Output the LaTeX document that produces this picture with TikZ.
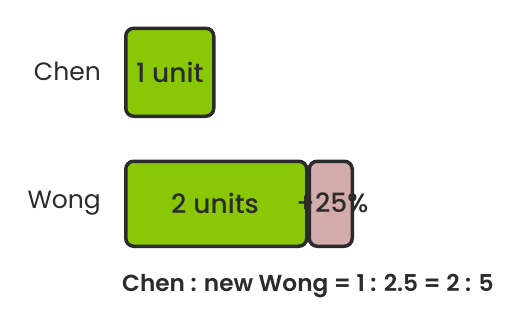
\documentclass[tikz,border=0pt]{standalone}
\usepackage{fontspec}
\setmainfont{Poppins}
\newfontfamily\medfont{Poppins Medium}
\newfontfamily\sbfont{Poppins SemiBold}
\definecolor{barg}{HTML}{8AC807}
\definecolor{barp}{HTML}{D2ABAA}
\definecolor{ink}{HTML}{2B2B2B}
\begin{document}
\begin{tikzpicture}[x=1pt,y=-1pt,
  bar/.style={draw=ink,line width=3.5pt,rounded corners=8pt,anchor=north west,inner sep=0pt},
  lbl/.style={text=ink,font=\fontsize{25}{28}\selectfont,anchor=east,inner sep=0pt},
  btxt/.style={text=ink,font=\medfont\fontsize{26.5}{30}\selectfont,inner sep=0pt}]
\useasboundingbox (0,0) rectangle (520,324);
\node[bar,fill=barg,minimum width=88pt,minimum height=88pt] (chenbox) at (124,26.5) {};
\node[bar,fill=barg,minimum width=181pt,minimum height=85pt] (wongbox) at (124,159.5) {};
\node[bar,fill=barp,minimum width=43pt,minimum height=85pt] (pbox) at (307.5,159.5) {};
\node[lbl] (chen) at (101,71) {Chen};
\node[lbl] (wong) at (101,203) {Wong};
\node[btxt] (one) at (chenbox.center) {1 unit};
\node[btxt] (two) at (215,203) {2 units};
\node[btxt,anchor=west] (pct) at (296,203) {+25\%};
\node[text=ink,font=\sbfont\fontsize{23.2}{26}\selectfont,anchor=west,inner sep=0pt] (ratio) at (122,286) {Chen : new Wong = 1 : 2.5 = 2 : 5};
\end{tikzpicture}
\end{document}
